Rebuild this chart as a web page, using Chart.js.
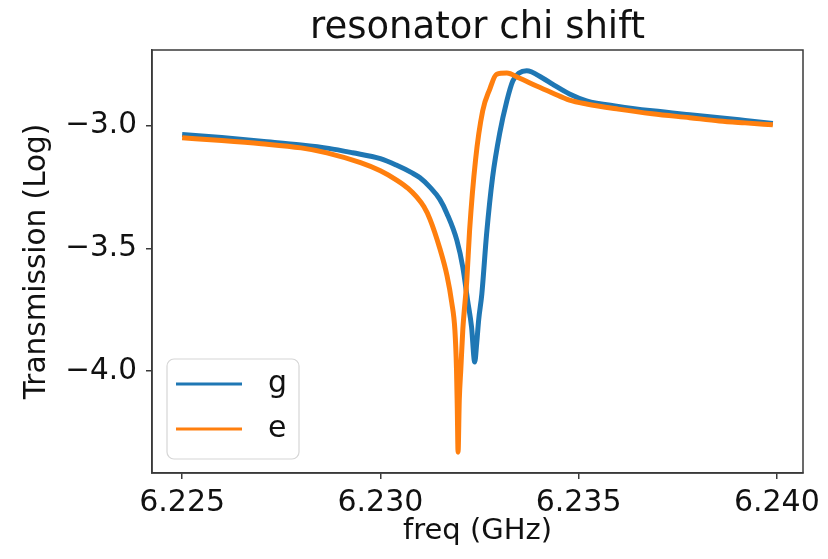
<!DOCTYPE html>
<html>
<head>
<meta charset="utf-8">
<script src="https://cdn.jsdelivr.net/npm/chart.js@4.4.1/dist/chart.umd.min.js"></script>
<style>
  html, body { margin: 0; padding: 0; background: #ffffff; }
  #wrap { width: 828px; height: 559px; }
</style>
</head>
<body>
<div id="wrap"><canvas id="c" width="828" height="559"></canvas></div>
<script>
// ---- data ----
const seriesNames = ["g", "e"];
const titleText = "resonator chi shift";
const xLabel = "freq (GHz)";
const yLabel = "Transmission (Log)";
const xTickValues = [6.225, 6.230, 6.235, 6.240];
const yTickValues = [-3.0, -3.5, -4.0];

const freqG = [6.22500, 6.22600, 6.22700, 6.22800, 6.22870, 6.22930, 6.23000, 6.23040, 6.23080, 6.23100,
               6.23125, 6.23150, 6.23168, 6.23193, 6.23208, 6.23220, 6.23230, 6.23238, 6.23243, 6.23248,
               6.23256, 6.23268, 6.23283, 6.23301, 6.23319, 6.23334, 6.23350, 6.23369, 6.23409, 6.23434,
               6.23477, 6.23520, 6.23600, 6.23686, 6.23780, 6.23855, 6.23920, 6.23990];
const valG  = [-3.035, -3.048, -3.063, -3.078, -3.092, -3.110, -3.134, -3.160, -3.192, -3.212,
               -3.250, -3.300, -3.358, -3.467, -3.577, -3.711, -3.820, -3.963, -3.886, -3.790,
               -3.684, -3.440, -3.210, -3.030, -2.898, -2.817, -2.785, -2.776, -2.805, -2.830,
               -2.870, -2.898, -2.921, -2.939, -2.955, -2.967, -2.978, -2.990];

const freqE = [6.22500, 6.22600, 6.22700, 6.22800, 6.22865, 6.22950, 6.23000, 6.23042, 6.23070, 6.23092,
               6.23110, 6.23125, 6.23150, 6.23168, 6.23180, 6.23188, 6.23192, 6.23194, 6.23196, 6.23199,
               6.23203, 6.23208, 6.23218, 6.23225, 6.23240, 6.23258, 6.23276, 6.23293, 6.23319, 6.23350,
               6.23394, 6.23434, 6.23477, 6.23520, 6.23600, 6.23686, 6.23780, 6.23855, 6.23920, 6.23990];
const valE  = [-3.049, -3.060, -3.073, -3.090, -3.110, -3.150, -3.183, -3.222, -3.255, -3.291,
               -3.330, -3.380, -3.500, -3.610, -3.720, -3.833, -3.990, -4.150, -4.330, -4.120,
               -3.990, -3.830, -3.630, -3.427, -3.140, -2.940, -2.850, -2.790, -2.785, -2.805,
               -2.838, -2.866, -2.895, -2.911, -2.932, -2.951, -2.967, -2.980, -2.988, -2.996];

const colorG = "#1f77b4";
const colorE = "#ff7f0e";
const FONT = "'DejaVu Sans', 'Liberation Sans', sans-serif";

const toPoints = (xs, ys) => xs.map((x, i) => ({ x: x, y: ys[i] }));

const framePlugin = {
  id: "frame",
  afterDatasetsDraw(chart) {
    const { ctx, chartArea: a } = chart;
    ctx.save();
    ctx.strokeStyle = "#3a3a3a";
    ctx.lineWidth = 1.5;
    ctx.strokeRect(a.left, a.top, a.right - a.left, a.bottom - a.top);
    ctx.restore();
  }
};

const titlePlugin = {
  id: "areaTitle",
  afterDraw(chart) {
    const { ctx, chartArea: a } = chart;
    ctx.save();
    ctx.fillStyle = "#111";
    ctx.font = "37px " + FONT;
    ctx.textAlign = "center";
    ctx.textBaseline = "alphabetic";
    ctx.fillText(titleText, (a.left + a.right) / 2, a.top - 12);
    ctx.restore();
  }
};

const legendPlugin = {
  id: "innerLegend",
  afterDraw(chart) {
    const { ctx, chartArea: a } = chart;
    const x0 = a.left + 15, y0 = a.bottom - 114, w = 132, h = 100, r = 7;
    ctx.save();
    ctx.beginPath();
    ctx.moveTo(x0 + r, y0);
    ctx.arcTo(x0 + w, y0, x0 + w, y0 + h, r);
    ctx.arcTo(x0 + w, y0 + h, x0, y0 + h, r);
    ctx.arcTo(x0, y0 + h, x0, y0, r);
    ctx.arcTo(x0, y0, x0 + w, y0, r);
    ctx.closePath();
    ctx.fillStyle = "rgba(255,255,255,0.8)";
    ctx.fill();
    ctx.strokeStyle = "#d6d6d6";
    ctx.lineWidth = 1.2;
    ctx.stroke();
    chart.data.datasets.forEach((ds, i) => {
      const yy = y0 + 25 + i * 45;
      ctx.beginPath();
      ctx.strokeStyle = ds.borderColor;
      ctx.lineWidth = 3;
      ctx.moveTo(x0 + 9, yy);
      ctx.lineTo(x0 + 75, yy);
      ctx.stroke();
      ctx.fillStyle = "#111";
      ctx.font = "30px " + FONT;
      ctx.textBaseline = "middle";
      ctx.textAlign = "left";
      ctx.fillText(ds.label, x0 + 101, yy);
    });
    ctx.restore();
  }
};

new Chart(document.getElementById("c"), {
  type: "line",
  data: {
    datasets: [
      { label: seriesNames[0], data: toPoints(freqG, valG), borderColor: colorG, backgroundColor: colorG,
        borderWidth: 5, pointRadius: 0, cubicInterpolationMode: "monotone", order: 1, fill: false },
      { label: seriesNames[1], data: toPoints(freqE, valE), borderColor: colorE, backgroundColor: colorE,
        borderWidth: 5, pointRadius: 0, cubicInterpolationMode: "monotone", order: 0, fill: false }
    ]
  },
  options: {
    responsive: false,
    animation: false,
    devicePixelRatio: 1,
    layout: { padding: { left: 0, right: 25, top: 50, bottom: 0 } },
    plugins: {
      legend: { display: false },
      tooltip: { enabled: false },
      title: { display: false }
    },
    scales: {
      x: {
        type: "linear", min: 6.22424, max: 6.24066,
        afterBuildTicks: (s) => { s.ticks = xTickValues.map(v => ({ value: v })); },
        afterFit: (s) => { s.height = 86; },
        ticks: {
          color: "#111", font: { family: FONT, size: 30 }, padding: 6, maxRotation: 0,
          callback: (v) => Number(v).toFixed(3)
        },
        grid: { drawOnChartArea: false, drawTicks: true, tickLength: 6, color: "#3a3a3a", lineWidth: 1.5 },
        border: { display: true, color: "#3a3a3a", width: 1.5 },
        title: { display: true, text: xLabel, color: "#111", font: { family: FONT, size: 29 }, padding: { top: 0, bottom: 10 } }
      },
      y: {
        type: "linear", min: -4.415, max: -2.691,
        afterBuildTicks: (s) => { s.ticks = yTickValues.map(v => ({ value: v })); },
        afterFit: (s) => { s.width = 152; },
        ticks: {
          color: "#111", font: { family: FONT, size: 29.5 }, padding: 9,
          callback: (v) => Number(v).toFixed(1).replace("-", "\u2212")
        },
        grid: { drawOnChartArea: false, drawTicks: true, tickLength: 6, color: "#3a3a3a", lineWidth: 1.5 },
        border: { display: true, color: "#3a3a3a", width: 1.5 },
        title: { display: true, text: yLabel, color: "#111", font: { family: FONT, size: 29.5 }, padding: { top: 20, bottom: 0 } }
      }
    }
  },
  plugins: [framePlugin, titlePlugin, legendPlugin]
});
</script>
</body>
</html>
